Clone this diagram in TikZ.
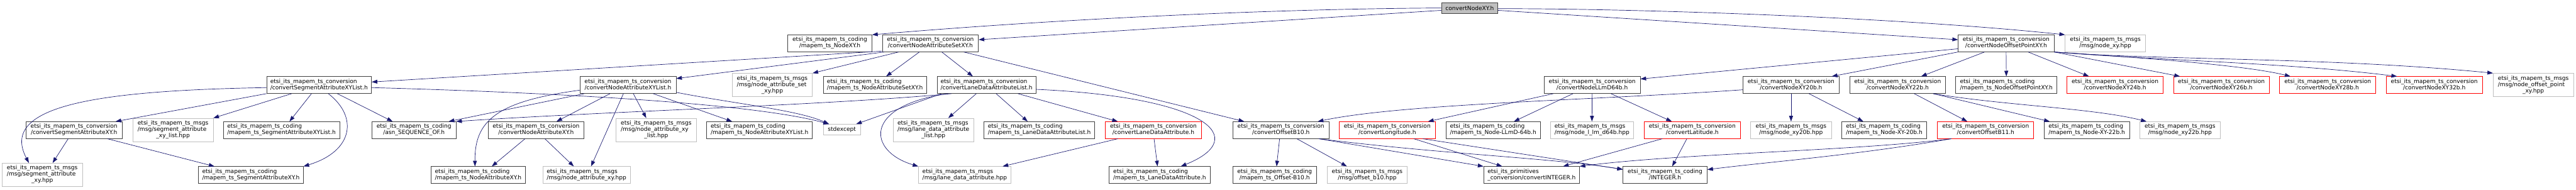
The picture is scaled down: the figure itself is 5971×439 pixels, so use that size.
\documentclass[tikz,border=0pt]{standalone}
\usepackage{fontspec}
\setmainfont{DejaVu Sans}
\usetikzlibrary{arrows.meta}

\definecolor{edgeblue}{HTML}{191970}
\definecolor{docgray}{HTML}{404040}
\definecolor{sysgray}{HTML}{BFBFBF}

% first lines left, last line centred (as the include graph prints them)
\newcommand{\twoline}[2]{\begin{tabular}{@{}l@{}}#1\\\multicolumn{1}{@{}c@{}}{#2}\end{tabular}}
\newcommand{\threeline}[3]{\begin{tabular}{@{}l@{}}#1\\#2\\\multicolumn{1}{@{}c@{}}{#3}\end{tabular}}

\tikzset{
  hfile/.style={draw=docgray, line width=1pt, fill=white, inner sep=0pt, minimum height=39pt},
  sysfile/.style={hfile, draw=sysgray},
  nodoc/.style={hfile, draw=red},
  rootfile/.style={hfile, fill=sysgray, minimum height=25pt},
  tall/.style={minimum height=54pt},
  bw/.style={minimum width=#1pt},
  inc/.style={draw=edgeblue, line width=1pt, -{Triangle[length=13pt,width=9pt]}},
}

\begin{document}
\begin{tikzpicture}[x=1pt, y=-1pt, font=\fontsize{13.25}{14.6}\selectfont]
	\useasboundingbox (0,0) rectangle (5971,439);
	
	% Root file
	\node[rootfile, bw=131] (root) at (3406.5,18.5) {convertNodeXY.h};
	
	% First level
	\node[hfile, bw=195] (codNodeXY) at (1923.5,100.5) {\twoline{etsi\_its\_mapem\_ts\_coding}{/mapem\_ts\_NodeXY.h}};
	\node[hfile, bw=223] (convAttrSet) at (2156.5,100.5) {\twoline{etsi\_its\_mapem\_ts\_conversion}{/convertNodeAttributeSetXY.h}};
	\node[hfile, bw=222] (convOffsetPt) at (4650,100.5) {\twoline{etsi\_its\_mapem\_ts\_conversion}{/convertNodeOffsetPointXY.h}};
	\node[sysfile, bw=186] (msgNodeXY) at (4880,100.5) {\twoline{etsi\_its\_mapem\_ts\_msgs}{/msg/node\_xy.hpp}};
	
	% Second level
	\node[hfile, bw=243] (convSegList) at (739.5,197) {\twoline{etsi\_its\_mapem\_ts\_conversion}{/convertSegmentAttributeXYList.h}};
	\node[hfile, bw=223] (convAttrList) at (1455.5,197) {\twoline{etsi\_its\_mapem\_ts\_conversion}{/convertNodeAttributeXYList.h}};
	\node[sysfile, tall, bw=186] (msgAttrSet) at (1790,197) {\threeline{etsi\_its\_mapem\_ts\_msgs}{/msg/node\_attribute\_set}{\_xy.hpp}};
	\node[hfile, bw=240] (codAttrSet) at (2028,197) {\twoline{etsi\_its\_mapem\_ts\_coding}{/mapem\_ts\_NodeAttributeSetXY.h}};
	\node[hfile, bw=229] (convLaneList) at (2286.5,197) {\twoline{etsi\_its\_mapem\_ts\_conversion}{/convertLaneDataAttributeList.h}};
	\node[hfile, bw=223] (convLLmD) at (3690.5,197) {\twoline{etsi\_its\_mapem\_ts\_conversion}{/convertNodeLLmD64b.h}};
	\node[hfile, bw=223] (convXY20) at (4151.5,197) {\twoline{etsi\_its\_mapem\_ts\_conversion}{/convertNodeXY20b.h}};
	\node[hfile, bw=223] (convXY22) at (4398.5,197) {\twoline{etsi\_its\_mapem\_ts\_conversion}{/convertNodeXY22b.h}};
	\node[hfile, bw=235] (codOffsetPt) at (4650.5,197) {\twoline{etsi\_its\_mapem\_ts\_coding}{/mapem\_ts\_NodeOffsetPointXY.h}};
	\node[nodoc, bw=223] (convXY24) at (4902.5,197) {\twoline{etsi\_its\_mapem\_ts\_conversion}{/convertNodeXY24b.h}};
	\node[nodoc, bw=222] (convXY26) at (5149,197) {\twoline{etsi\_its\_mapem\_ts\_conversion}{/convertNodeXY26b.h}};
	\node[nodoc, bw=223] (convXY28) at (5395.5,197) {\twoline{etsi\_its\_mapem\_ts\_conversion}{/convertNodeXY28b.h}};
	\node[nodoc, bw=223] (convXY32) at (5642.5,197) {\twoline{etsi\_its\_mapem\_ts\_conversion}{/convertNodeXY32b.h}};
	\node[sysfile, tall, bw=186] (msgOffsetPt) at (5872,197) {\threeline{etsi\_its\_mapem\_ts\_msgs}{/msg/node\_offset\_point}{\_xy.hpp}};
	
	% Third level
	\node[hfile, bw=223] (convSeg) at (171.5,301.5) {\twoline{etsi\_its\_mapem\_ts\_conversion}{/convertSegmentAttributeXY.h}};
	\node[sysfile, tall, bw=186] (msgSegList) at (401,301) {\threeline{etsi\_its\_mapem\_ts\_msgs}{/msg/segment\_attribute}{\_xy\_list.hpp}};
	\node[hfile, bw=269] (codSegList) at (652.5,301.5) {\twoline{etsi\_its\_mapem\_ts\_coding}{/mapem\_ts\_SegmentAttributeXYList.h}};
	\node[hfile, bw=195] (codSeqOf) at (959.5,301.5) {\twoline{etsi\_its\_mapem\_ts\_coding}{/asn\_SEQUENCE\_OF.h}};
	\node[hfile, bw=223] (convAttr) at (1242.5,301.5) {\twoline{etsi\_its\_mapem\_ts\_conversion}{/convertNodeAttributeXY.h}};
	\node[sysfile, tall, bw=186] (msgAttrList) at (1521,301) {\threeline{etsi\_its\_mapem\_ts\_msgs}{/msg/node\_attribute\_xy}{\_list.hpp}};
	\node[hfile, bw=245] (codAttrList) at (1760.5,301.5) {\twoline{etsi\_its\_mapem\_ts\_coding}{/mapem\_ts\_NodeAttributeXYList.h}};
	\node[sysfile, bw=87, minimum height=25pt] (stdexc) at (1951.5,300.5) {stdexcept};
	\node[sysfile, tall, bw=187] (msgLaneList) at (2163.5,301) {\threeline{etsi\_its\_mapem\_ts\_msgs}{/msg/lane\_data\_attribute}{\_list.hpp}};
	\node[hfile, bw=256] (codLaneList) at (2409,301.5) {\twoline{etsi\_its\_mapem\_ts\_coding}{/mapem\_ts\_LaneDataAttributeList.h}};
	\node[nodoc, bw=223] (convLane) at (2673.5,301.5) {\twoline{etsi\_its\_mapem\_ts\_conversion}{/convertLaneDataAttribute.h}};
	\node[hfile, bw=222] (convB10) at (2969,301.5) {\twoline{etsi\_its\_mapem\_ts\_conversion}{/convertOffsetB10.h}};
	\node[nodoc, bw=223] (convLon) at (3215.5,301.5) {\twoline{etsi\_its\_mapem\_ts\_conversion}{/convertLongitude.h}};
	\node[hfile, bw=218] (codLLmD) at (3461,301.5) {\twoline{etsi\_its\_mapem\_ts\_coding}{/mapem\_ts\_Node-LLmD-64b.h}};
	\node[sysfile, bw=192] (msgLLmD) at (3690,301.5) {\twoline{etsi\_its\_mapem\_ts\_msgs}{/msg/node\_l\_lm\_d64b.hpp}};
	\node[nodoc, bw=223] (convLat) at (3922.5,301.5) {\twoline{etsi\_its\_mapem\_ts\_conversion}{/convertLatitude.h}};
	\node[sysfile, bw=187] (msgXY20) at (4151.5,301.5) {\twoline{etsi\_its\_mapem\_ts\_msgs}{/msg/node\_xy20b.hpp}};
	\node[hfile, bw=197] (codXY20) at (4367.5,301.5) {\twoline{etsi\_its\_mapem\_ts\_coding}{/mapem\_ts\_Node-XY-20b.h}};
	\node[nodoc, bw=223] (convB11) at (4602.5,301.5) {\twoline{etsi\_its\_mapem\_ts\_conversion}{/convertOffsetB11.h}};
	\node[hfile, bw=198] (codXY22) at (4837,301.5) {\twoline{etsi\_its\_mapem\_ts\_coding}{/mapem\_ts\_Node-XY-22b.h}};
	\node[sysfile, bw=186] (msgXY22) at (5053,301.5) {\twoline{etsi\_its\_mapem\_ts\_msgs}{/msg/node\_xy22b.hpp}};
	
	% Fourth level
	\node[sysfile, tall, bw=186] (msgSeg) at (98,405) {\threeline{etsi\_its\_mapem\_ts\_msgs}{/msg/segment\_attribute}{\_xy.hpp}};
	\node[hfile, bw=243] (codSeg) at (581.5,405.5) {\twoline{etsi\_its\_mapem\_ts\_coding}{/mapem\_ts\_SegmentAttributeXY.h}};
	\node[hfile, bw=219] (codAttr) at (1108.5,405.5) {\twoline{etsi\_its\_mapem\_ts\_coding}{/mapem\_ts\_NodeAttributeXY.h}};
	\node[sysfile, bw=203] (msgAttr) at (1359.5,405.5) {\twoline{etsi\_its\_mapem\_ts\_msgs}{/msg/node\_attribute\_xy.hpp}};
	\node[sysfile, bw=214] (msgLane) at (2236,405.5) {\twoline{etsi\_its\_mapem\_ts\_msgs}{/msg/lane\_data\_attribute.hpp}};
	\node[hfile, bw=234] (codLane) at (2688,405.5) {\twoline{etsi\_its\_mapem\_ts\_coding}{/mapem\_ts\_LaneDataAttribute.h}};
	\node[hfile, bw=195] (codB10) at (2954.5,405.5) {\twoline{etsi\_its\_mapem\_ts\_coding}{/mapem\_ts\_Offset-B10.h}};
	\node[sysfile, bw=186] (msgB10) at (3169,405.5) {\twoline{etsi\_its\_mapem\_ts\_msgs}{/msg/offset\_b10.hpp}};
	\node[hfile, bw=222] (primInt) at (3550,405.5) {\twoline{etsi\_its\_primitives}{\_conversion/convertINTEGER.h}};
	\node[hfile, bw=195] (codInt) at (3859.5,405.5) {\twoline{etsi\_its\_mapem\_ts\_coding}{/INTEGER.h}};
	
	% Includes of the root file
	\draw[inc] (root.west) .. controls (3000,20) and (2500,40) .. (codNodeXY.north east);
	\draw[inc] ([yshift=-5.5pt]root.west) -- ([yshift=8.5pt]convAttrSet.east);
	\draw[inc] ([yshift=-1.5pt]root.east) .. controls (3800,20) and (4400,40) .. (msgNodeXY.north west);
	\draw[inc] ([yshift=-5.5pt]root.east) -- ([yshift=8.5pt]convOffsetPt.west);
	
	% convertNodeAttributeSetXY.h
	\draw[inc] ([yshift=2pt]convAttrSet.south west) -- ([yshift=7pt]convSegList.east);
	\draw[inc] ([xshift=5pt]convAttrSet.south west) -- ([yshift=15pt]convAttrList.east);
	\draw[inc] ([xshift=-73.5pt]convAttrSet.south) -- (msgAttrSet.north east);
	\draw[inc] ([xshift=-25.5pt]convAttrSet.south) -- ([xshift=26pt]codAttrSet.north);
	\draw[inc] ([xshift=26.5pt]convAttrSet.south) -- ([xshift=-31.5pt]convLaneList.north);
	\draw[inc] ([xshift=77.5pt]convAttrSet.south) -- ([xshift=-85pt]convB10.north);
	
	% convertSegmentAttributeXYList.h
	\draw[inc] ([yshift=-6pt]convSegList.west) .. controls (200,210) and (0,250) .. ([xshift=-31pt]msgSeg.north);
	\draw[inc] (convSegList.south west) -- ([xshift=96.5pt]convSeg.north);
	\draw[inc] ([xshift=-63.5pt]convSegList.south) -- (msgSegList.north east);
	\draw[inc] ([xshift=-17.5pt]convSegList.south) -- ([xshift=18.5pt]codSegList.north);
	\draw[inc] ([xshift=21.5pt]convSegList.south) .. controls (830,270) and (820,350) .. (codSeg.north east);
	\draw[inc] ([xshift=42.5pt]convSegList.south) -- ([xshift=-49.5pt]codSeqOf.north);
	\draw[inc] ([yshift=-6pt]convSegList.east) .. controls (1300,215) and (1750,240) .. ([xshift=14pt]stdexc.north west);
	
	% convertSegmentAttributeXY.h
	\draw[inc] ([xshift=-13.5pt]convSeg.south) -- ([xshift=24pt]msgSeg.north);
	\draw[inc] ([xshift=77.5pt]convSeg.south) -- ([xshift=-84.5pt]codSeg.north);
	
	% convertNodeAttributeXYList.h
	\draw[inc] ([yshift=-12pt]convAttrList.west) .. controls (1150,235) and (1100,280) .. ([xshift=-7.5pt]codAttr.north);
	\draw[inc] ([xshift=11pt]convAttrList.south west) -- ([xshift=80.5pt]codSeqOf.north);
	\draw[inc] ([xshift=-41.5pt]convAttrList.south) -- ([xshift=47.5pt]convAttr.north);
	\draw[inc] ([xshift=-10.5pt]convAttrList.south) -- ([xshift=10.5pt]msgAttr.north);
	\draw[inc] ([xshift=12.5pt]convAttrList.south) -- ([xshift=-23pt]msgAttrList.north);
	\draw[inc] ([xshift=58.5pt]convAttrList.south) -- ([xshift=-63.5pt]codAttrList.north);
	\draw[inc] ([yshift=-17pt]convAttrList.east) .. controls (1700,240) and (1850,255) .. ([xshift=14pt]stdexc.north west);
	
	% convertNodeAttributeXY.h
	\draw[inc] ([xshift=-25.5pt]convAttr.south) -- ([xshift=31.5pt]codAttr.north);
	\draw[inc] ([xshift=20.5pt]convAttr.south) -- ([xshift=-29.5pt]msgAttr.north);
	
	% convertLaneDataAttributeList.h
	\draw[inc] ([xshift=34pt]convLaneList.south west) .. controls (1900,245) and (1400,258) .. (codSeqOf.north east);
	\draw[inc] ([xshift=11pt]convLaneList.south west) -- ([xshift=-11pt]stdexc.north east);
	\draw[inc] ([xshift=26pt]convLaneList.south west) .. controls (2000,245) and (2010,350) .. (msgLane.north west);
	\draw[inc] ([xshift=-23.5pt]convLaneList.south) -- ([xshift=34.5pt]msgLaneList.north);
	\draw[inc] ([xshift=22.5pt]convLaneList.south) -- ([xshift=-27pt]codLaneList.north);
	\draw[inc] ([xshift=-42pt]convLaneList.south east) -- ([xshift=-82.5pt]convLane.north);
	\draw[inc] ([yshift=-10pt]convLaneList.east) .. controls (2800,225) and (2900,320) .. ([xshift=49pt]codLane.north);
	
	% convertLaneDataAttribute.h
	\draw[inc] ([xshift=1.5pt]convLane.south) -- ([xshift=-5pt]codLane.north);
	\draw[inc] ([xshift=-82.5pt]convLane.south) -- ([xshift=88pt]msgLane.north);
	
	% convertOffsetB10.h
	\draw[inc] ([xshift=-3pt]convB10.south) -- ([xshift=4.5pt]codB10.north);
	\draw[inc] ([xshift=37pt]convB10.south) -- ([xshift=-47pt]msgB10.north);
	\draw[inc] ([xshift=88pt]convB10.south) -- (primInt.north west);
	\draw[inc] ([xshift=88pt]convB10.south) .. controls (3350,358) and (3600,366) .. ([yshift=13pt]codInt.west);
	
	% convertLongitude.h
	\draw[inc] ([xshift=61.5pt]convLon.south) -- ([xshift=-68pt]primInt.north);
	\draw[inc] ([xshift=82.5pt]convLon.south) -- ([yshift=13pt]codInt.west);
	
	% convertNodeLLmD64b.h
	\draw[inc] ([xshift=-90pt]convLLmD.south) -- ([xshift=94.5pt]convLon.north);
	\draw[inc] ([xshift=-44.5pt]convLLmD.south) -- ([xshift=48pt]codLLmD.north);
	\draw[inc] (convLLmD.south) -- (msgLLmD.north);
	\draw[inc] ([xshift=43.5pt]convLLmD.south) -- ([xshift=-47.5pt]convLat.north);
	
	% convertLatitude.h
	\draw[inc] ([xshift=-69.5pt]convLat.south) -- ([xshift=73pt]primInt.north);
	\draw[inc] ([xshift=-12.5pt]convLat.south) -- ([xshift=16.5pt]codInt.north);
	
	% convertNodeXY20b.h
	\draw[inc] ([yshift=-11pt]convXY20.west) .. controls (3700,232) and (3250,240) .. ([xshift=-26pt]convB10.north east);
	\draw[inc] (convXY20.south) -- (msgXY20.north);
	\draw[inc] ([xshift=41.5pt]convXY20.south) -- ([xshift=-48.5pt]codXY20.north);
	
	% convertNodeOffsetPointXY.h
	\draw[inc] ([yshift=-12.5pt]convOffsetPt.west) -- ([yshift=14pt]convLLmD.east);
	\draw[inc] (convOffsetPt.south west) -- ([xshift=94.5pt]convXY20.north);
	\draw[inc] ([xshift=-50pt]convOffsetPt.south) -- ([xshift=54.5pt]convXY22.north);
	\draw[inc] (convOffsetPt.south) -- (codOffsetPt.north);
	\draw[inc] ([xshift=51pt]convOffsetPt.south) -- ([xshift=-60.5pt]convXY24.north);
	\draw[inc] (convOffsetPt.south east) -- ([xshift=-96pt]convXY26.north);
	\draw[inc] (convOffsetPt.south east) .. controls (4950,133) and (5200,150) .. ([xshift=-86.5pt]convXY28.north);
	\draw[inc] (convOffsetPt.south east) .. controls (5000,140) and (5300,145) .. ([xshift=-86.5pt]convXY32.north);
	\draw[inc] (convOffsetPt.south east) .. controls (5000,140) and (5400,132) .. (msgOffsetPt.north west);
	
	% convertNodeXY22b.h
	\draw[inc] ([xshift=38.5pt]convXY22.south) -- ([xshift=-42.5pt]convB11.north);
	\draw[inc] ([xshift=82.5pt]convXY22.south) -- ([xshift=-86pt]codXY22.north);
	\draw[inc] ([xshift=82.5pt]convXY22.south) .. controls (4650,245) and (4850,250) .. ([xshift=16pt]msgXY22.north west);
	
	% convertOffsetB11.h
	\draw[inc] ([xshift=-79.5pt]convB11.south) .. controls (4300,350) and (3900,355) .. (primInt.north east);
	\draw[inc] ([xshift=-79.5pt]convB11.south) .. controls (4300,360) and (4100,375) .. ([yshift=12.5pt]codInt.east);
	
\end{tikzpicture}
\end{document}
